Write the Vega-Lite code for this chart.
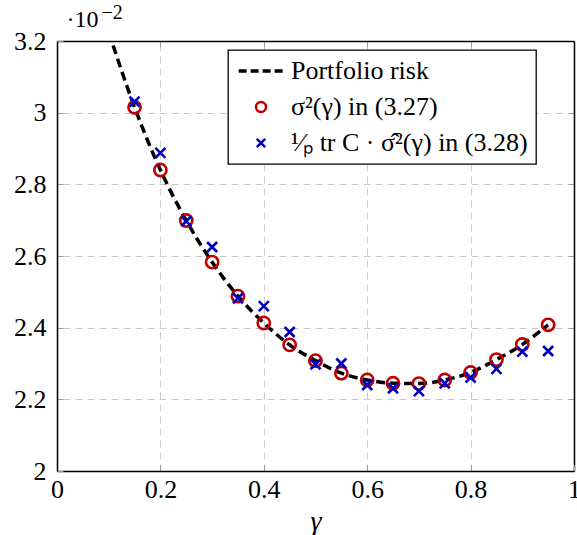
{
  "$schema": "https://vega.github.io/schema/vega-lite/v6.json",
  "width": 517,
  "height": 430,
  "autosize": "none",
  "padding": {"left": 57, "top": 41, "right": 3, "bottom": 64},
  "background": "white",
  "config": {
    "view": {"stroke": null},
    "font": "Liberation Serif",
    "axis": {"titleFontWeight": "normal", "titleColor": "black", "labelColor": "black"}
  },
  "datasets": {
    "risk": [
      {"gamma": 0.10, "value": 3.225, "series": "Portfolio risk"},
      {"gamma": 0.15, "value": 3.015, "series": "Portfolio risk"},
      {"gamma": 0.20, "value": 2.840, "series": "Portfolio risk"},
      {"gamma": 0.25, "value": 2.699, "series": "Portfolio risk"},
      {"gamma": 0.30, "value": 2.583, "series": "Portfolio risk"},
      {"gamma": 0.35, "value": 2.488, "series": "Portfolio risk"},
      {"gamma": 0.40, "value": 2.413, "series": "Portfolio risk"},
      {"gamma": 0.45, "value": 2.352, "series": "Portfolio risk"},
      {"gamma": 0.50, "value": 2.308, "series": "Portfolio risk"},
      {"gamma": 0.55, "value": 2.273, "series": "Portfolio risk"},
      {"gamma": 0.60, "value": 2.254, "series": "Portfolio risk"},
      {"gamma": 0.65, "value": 2.245, "series": "Portfolio risk"},
      {"gamma": 0.70, "value": 2.244, "series": "Portfolio risk"},
      {"gamma": 0.75, "value": 2.254, "series": "Portfolio risk"},
      {"gamma": 0.80, "value": 2.275, "series": "Portfolio risk"},
      {"gamma": 0.85, "value": 2.311, "series": "Portfolio risk"},
      {"gamma": 0.90, "value": 2.353, "series": "Portfolio risk"},
      {"gamma": 0.95, "value": 2.408, "series": "Portfolio risk"}
    ],
    "estimates": [
      {"gamma": 0.15, "value": 3.015, "series": "σ²(γ) in (3.27)"},
      {"gamma": 0.20, "value": 2.840, "series": "σ²(γ) in (3.27)"},
      {"gamma": 0.25, "value": 2.699, "series": "σ²(γ) in (3.27)"},
      {"gamma": 0.30, "value": 2.583, "series": "σ²(γ) in (3.27)"},
      {"gamma": 0.35, "value": 2.488, "series": "σ²(γ) in (3.27)"},
      {"gamma": 0.40, "value": 2.413, "series": "σ²(γ) in (3.27)"},
      {"gamma": 0.45, "value": 2.352, "series": "σ²(γ) in (3.27)"},
      {"gamma": 0.50, "value": 2.308, "series": "σ²(γ) in (3.27)"},
      {"gamma": 0.55, "value": 2.273, "series": "σ²(γ) in (3.27)"},
      {"gamma": 0.60, "value": 2.254, "series": "σ²(γ) in (3.27)"},
      {"gamma": 0.65, "value": 2.245, "series": "σ²(γ) in (3.27)"},
      {"gamma": 0.70, "value": 2.244, "series": "σ²(γ) in (3.27)"},
      {"gamma": 0.75, "value": 2.254, "series": "σ²(γ) in (3.27)"},
      {"gamma": 0.80, "value": 2.275, "series": "σ²(γ) in (3.27)"},
      {"gamma": 0.85, "value": 2.311, "series": "σ²(γ) in (3.27)"},
      {"gamma": 0.90, "value": 2.353, "series": "σ²(γ) in (3.27)"},
      {"gamma": 0.95, "value": 2.408, "series": "σ²(γ) in (3.27)"},
      {"gamma": 0.15, "value": 3.031, "series": "¹⁄ₚ tr C · σ̂²(γ) in (3.28)"},
      {"gamma": 0.20, "value": 2.888, "series": "¹⁄ₚ tr C · σ̂²(γ) in (3.28)"},
      {"gamma": 0.25, "value": 2.697, "series": "¹⁄ₚ tr C · σ̂²(γ) in (3.28)"},
      {"gamma": 0.30, "value": 2.625, "series": "¹⁄ₚ tr C · σ̂²(γ) in (3.28)"},
      {"gamma": 0.35, "value": 2.482, "series": "¹⁄ₚ tr C · σ̂²(γ) in (3.28)"},
      {"gamma": 0.40, "value": 2.460, "series": "¹⁄ₚ tr C · σ̂²(γ) in (3.28)"},
      {"gamma": 0.45, "value": 2.388, "series": "¹⁄ₚ tr C · σ̂²(γ) in (3.28)"},
      {"gamma": 0.50, "value": 2.298, "series": "¹⁄ₚ tr C · σ̂²(γ) in (3.28)"},
      {"gamma": 0.55, "value": 2.300, "series": "¹⁄ₚ tr C · σ̂²(γ) in (3.28)"},
      {"gamma": 0.60, "value": 2.240, "series": "¹⁄ₚ tr C · σ̂²(γ) in (3.28)"},
      {"gamma": 0.65, "value": 2.231, "series": "¹⁄ₚ tr C · σ̂²(γ) in (3.28)"},
      {"gamma": 0.70, "value": 2.223, "series": "¹⁄ₚ tr C · σ̂²(γ) in (3.28)"},
      {"gamma": 0.75, "value": 2.245, "series": "¹⁄ₚ tr C · σ̂²(γ) in (3.28)"},
      {"gamma": 0.80, "value": 2.261, "series": "¹⁄ₚ tr C · σ̂²(γ) in (3.28)"},
      {"gamma": 0.85, "value": 2.285, "series": "¹⁄ₚ tr C · σ̂²(γ) in (3.28)"},
      {"gamma": 0.90, "value": 2.333, "series": "¹⁄ₚ tr C · σ̂²(γ) in (3.28)"},
      {"gamma": 0.95, "value": 2.335, "series": "¹⁄ₚ tr C · σ̂²(γ) in (3.28)"}
    ]
  },
  "resolve": {"axis": {"x": "independent", "y": "independent"}},
  "layer": [
    {
      "data": {"name": "risk"},
      "mark": {"type": "line", "clip": true, "strokeDash": [9, 5], "strokeWidth": 3.5, "interpolate": "monotone"},
      "encoding": {
        "x": {
          "field": "gamma", "type": "quantitative",
          "scale": {"domain": [0, 1], "nice": false, "zero": false},
          "axis": {
            "orient": "bottom", "values": [0, 0.2, 0.4, 0.6, 0.8, 1], "format": ".1~f",
            "grid": false, "domain": true, "domainColor": "black", "domainWidth": 1.5,
            "ticks": true, "tickSize": -6, "tickColor": "#9a9a9a", "tickWidth": 1,
            "labelFont": "Liberation Serif", "labelFontSize": 26, "labelPadding": 11,
            "labelFlush": false, "labelOverlap": false,
            "title": "γ", "titleFont": "Liberation Serif", "titleFontSize": 28, "titleFontStyle": "italic",
            "titlePadding": 5, "zindex": 1
          }
        },
        "y": {
          "field": "value", "type": "quantitative",
          "scale": {"domain": [2, 3.2], "nice": false, "zero": false},
          "axis": {
            "orient": "left", "values": [2, 2.2, 2.4, 2.6, 2.8, 3, 3.2], "format": ".1~f",
            "grid": false, "domain": true, "domainColor": "black", "domainWidth": 1.5,
            "ticks": true, "tickSize": -6, "tickColor": "#9a9a9a", "tickWidth": 1,
            "labelFont": "Liberation Serif", "labelFontSize": 26, "labelPadding": 17,
            "labelFlush": false, "labelOverlap": false,
            "title": "·10", "titleAngle": 0, "titleAlign": "left", "titleBaseline": "alphabetic",
            "titleX": 9, "titleY": -15, "titleFont": "Liberation Serif", "titleFontSize": 24, "zindex": 1
          }
        },
        "color": {
          "field": "series", "type": "nominal",
          "scale": {
            "domain": ["Portfolio risk", "σ²(γ) in (3.27)", "¹⁄ₚ tr C · σ̂²(γ) in (3.28)"],
            "range": ["black", "#bf0000", "#0000bf"]
          },
          "legend": {
            "orient": "none", "legendX": 171, "legendY": 9, "title": null,
            "fillColor": "white", "strokeColor": "black", "padding": 8, "cornerRadius": 0,
            "labelFont": "Liberation Serif", "labelFontSize": 26, "labelColor": "black", "labelLimit": 400,
            "symbolSize": 100, "symbolOffset": 12, "labelOffset": 17, "rowPadding": 10,
            "symbolStrokeWidth": 2.5,
            "encode": {
              "legend": {"update": {"strokeWidth": {"value": 1.3}}},
              "symbols": {
                "update": {
                  "size": {"signal": "datum.value === 'Portfolio risk' ? 2000 : (datum.value === 'σ²(γ) in (3.27)' ? 100 : 70)"},
                  "strokeDash": {"signal": "datum.value === 'Portfolio risk' ? [8, 4] : []"},
                  "strokeWidth": {"signal": "datum.value === 'Portfolio risk' ? 3.5 : 2.5"}
                }
              }
            }
          }
        }
      }
    },
    {
      "data": {"name": "estimates"},
      "mark": {"type": "point", "filled": false, "strokeWidth": 2.6, "opacity": 1},
      "encoding": {
        "x": {
          "field": "gamma", "type": "quantitative",
          "axis": {
            "orient": "top", "values": [0.2, 0.4, 0.6, 0.8], "labels": false,
            "title": "−2", "titleAngle": 0, "titleAlign": "left", "titleBaseline": "alphabetic",
            "titleX": 44, "titleY": -23, "titleFont": "Liberation Serif", "titleFontSize": 20,
            "grid": true, "gridColor": "#c8c8c8", "gridDash": [7, 5], "gridWidth": 1,
            "domain": true, "domainColor": "black", "domainWidth": 1.5,
            "ticks": true, "tickSize": -6, "tickColor": "#9a9a9a", "tickWidth": 1
          }
        },
        "y": {
          "field": "value", "type": "quantitative",
          "axis": {
            "orient": "right", "values": [2.2, 2.4, 2.6, 2.8, 3], "labels": false, "title": null,
            "grid": true, "gridColor": "#c8c8c8", "gridDash": [7, 5], "gridWidth": 1,
            "domain": true, "domainColor": "black", "domainWidth": 1.5,
            "ticks": true, "tickSize": -6, "tickColor": "#9a9a9a", "tickWidth": 1
          }
        },
        "color": {"field": "series", "type": "nominal"},
        "shape": {
          "field": "series", "type": "nominal",
          "scale": {
            "domain": ["Portfolio risk", "σ²(γ) in (3.27)", "¹⁄ₚ tr C · σ̂²(γ) in (3.28)"],
            "range": ["stroke", "circle", "M-1,-1L1,1M1,-1L-1,1"]
          }
        },
        "size": {
          "field": "series", "type": "nominal",
          "scale": {
            "domain": ["σ²(γ) in (3.27)", "¹⁄ₚ tr C · σ̂²(γ) in (3.28)"],
            "range": [150, 100]
          },
          "legend": null
        }
      }
    }
  ]
}
